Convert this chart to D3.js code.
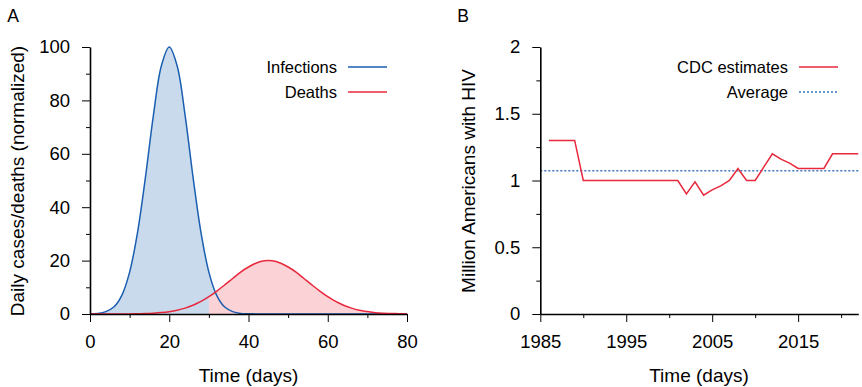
<!DOCTYPE html>
<html>
<head>
<meta charset="utf-8">
<script src="https://cdn.jsdelivr.net/npm/d3@7"></script>
<style>
  body { margin: 0; background: #fff; }
  svg { font-family: "Liberation Sans", Arial, sans-serif; }
</style>
</head>
<body>
<svg id="Target" width="862" height="387"></svg>
<script>
// panel A: normalized daily values, every 2 days
const days = [0,2,4,6,8,10,12,14,16,18,20,22,24,26,28,30,32,34,36,38,40,
    42,44,46,48,50,52,54,56,58,60,62,64,66,68,70,72,74,76,78,80];
const infections = [0,0.2,0.9,2.6,6.9,15.7,30.6,51.3,74.4,92.9,100,92.9,74.4,51.3,30.6,15.7,6.9,2.6,0.9,0.2,0.1,
    0,0,0,0,0,0,0,0,0,0,0,0,0,0,0,0,0,0,0,0];
const deaths = [0,0,0,0,0,0.04,0.1,0.16,0.3,0.52,0.88,1.42,2.2,3.3,4.7,6.5,8.6,10.9,13.3,15.7,17.6,
    19.1,19.9,19.9,19.1,17.6,15.7,13.3,10.9,8.6,6.5,4.7,3.3,2.2,1.4,0.9,0.5,0.3,0.2,0.1,0];

// panel B: CDC estimates, million Americans with HIV
const years = [1986,1987,1988,1989,1990,1991,1992,1993,1994,1995,1996,1997,1998,1999,2000,2001,
    2002,2003,2004,2005,2006,2007,2008,2009,2010,2011,2012,2013,2014,2015,2016,2017,2018,2019,2020,2021,2022];
const cdc = [1.3,1.3,1.3,1.3,1.0,1.0,1.0,1.0,1.0,1.0,1.0,1.0,1.0,1.0,1.0,1.0,
    0.9,0.99,0.89,0.93,0.96,1.0,1.09,1.0,1.0,1.1,1.2,1.16,1.13,1.09,1.09,1.09,1.09,1.2,1.2,1.2,1.2];

const blue = "#1a5fb0", red = "#e8283c";
const blueFill = "#c9daec", redFill = "#fbd2d6";
const svg = d3.select("#Target");

const styleAxis = g => {
    g.select(".domain").attr("stroke", "#000").attr("stroke-width", 1.6);
    g.selectAll(".tick line").attr("stroke", "#000").attr("stroke-width", 1);
    g.selectAll("text").attr("font-size", 18.5).attr("fill", "#000");
};

const drawAxes = (x, y, xMajor, xMinor, yMajor, yMinor, yFmt) => {
    const [x0, x1] = x.range(), [y0, y1] = y.range();
    svg.append("g").attr("transform", `translate(0,${y0})`)
        .call(d3.axisBottom(x).tickValues(xMinor).tickSize(4).tickFormat(""))
        .call(g => g.select(".domain").remove())
        .call(styleAxis);
    svg.append("g").attr("transform", `translate(${x0},0)`)
        .call(d3.axisLeft(y).tickValues(yMinor).tickSize(4).tickFormat(""))
        .call(g => g.select(".domain").remove())
        .call(styleAxis);
    svg.append("g").attr("transform", `translate(0,${y0})`)
        .call(d3.axisBottom(x).tickValues(xMajor).tickSize(8).tickSizeOuter(0).tickPadding(13).tickFormat(d3.format("d")))
        .call(styleAxis);
    svg.append("g").attr("transform", `translate(${x0},0)`)
        .call(d3.axisLeft(y).tickValues(yMajor).tickSize(8).tickSizeOuter(0).tickPadding(12).tickFormat(yFmt))
        .call(styleAxis);
};

const label = (txt, x, y, opts = {}) => svg.append("text")
    .attr("x", x).attr("y", y)
    .attr("dy", "0.35em")
    .attr("font-size", opts.size || 19)
    .attr("text-anchor", opts.anchor || "middle")
    .attr("transform", opts.rotate ? `rotate(-90,${x},${y})` : null)
    .text(txt);

const legendItem = (txt, x, y, color, dash) => {
    label(txt, x, y, {size: 16.5, anchor: "end"});
    svg.append("line")
        .attr("x1", x + 11).attr("x2", x + 50)
        .attr("y1", y).attr("y2", y)
        .attr("stroke", color).attr("stroke-width", 1.6)
        .attr("stroke-dasharray", dash);
};

// ---------- A ----------
const xA = d3.scaleLinear().domain([0, 80]).range([90, 407]);
const yA = d3.scaleLinear().domain([0, 100]).range([314, 47]);
const pts = days.map((d, i) => ({day: d, inf: infections[i], dth: deaths[i]}));

const areaA = key => d3.area().curve(d3.curveCatmullRom)
    .x(d => xA(d.day)).y0(yA(0)).y1(d => yA(d[key]));
const lineA = key => d3.line().curve(d3.curveCatmullRom)
    .x(d => xA(d.day)).y(d => yA(d[key]));

svg.append("path").datum(pts).attr("d", areaA("dth")).attr("fill", redFill);
svg.append("path").datum(pts).attr("d", areaA("inf")).attr("fill", blueFill);
// where deaths are above infections, the overlap takes the deaths colour
svg.append("path").datum(pts.filter(d => d.day >= 30))
    .attr("d", d3.area().curve(d3.curveCatmullRom)
        .x(d => xA(d.day)).y0(yA(0)).y1(d => yA(Math.min(d.inf, d.dth))))
    .attr("fill", redFill);
svg.append("path").datum(pts).attr("d", lineA("inf"))
    .attr("fill", "none").attr("stroke", blue).attr("stroke-width", 1.5);
svg.append("path").datum(pts).attr("d", lineA("dth"))
    .attr("fill", "none").attr("stroke", red).attr("stroke-width", 1.5);

drawAxes(xA, yA, [0, 20, 40, 60, 80], [10, 30, 50, 70],
    [0, 20, 40, 60, 80, 100], [10, 30, 50, 70, 90], d3.format("d"));

label("A", 13, 16, {size: 17.5});
label("Time (days)", 248.5, 375);
label("Daily cases/deaths (normalized)", 17, 181, {rotate: true});
legendItem("Infections", 337, 67, blue);
legendItem("Deaths", 337, 92, red);

// ---------- B ----------
const xB = d3.scaleLinear().domain([1985, 2022]).range([540.3, 858.3]);
const yB = d3.scaleLinear().domain([0, 2]).range([314, 47]);
const avg = d3.mean(cdc);

svg.append("line")
    .attr("x1", xB(1985)).attr("x2", xB(2022))
    .attr("y1", yB(avg)).attr("y2", yB(avg))
    .attr("stroke", "#3a78c0").attr("stroke-width", 1.6)
    .attr("stroke-dasharray", "2,2");
svg.append("path").datum(years.map((yr, i) => [yr, cdc[i]]))
    .attr("d", d3.line().x(d => xB(d[0])).y(d => yB(d[1])))
    .attr("fill", "none").attr("stroke", red).attr("stroke-width", 1.5);

drawAxes(xB, yB, [1985, 1995, 2005, 2015], [1990, 2000, 2010, 2020],
    [0, 0.5, 1, 1.5, 2], [0.25, 0.75, 1.25, 1.75], d => String(d));

label("B", 463, 16, {size: 17.5});
label("Time (days)", 699, 375);
label("Million Americans with HIV", 468, 181, {rotate: true});
legendItem("CDC estimates", 788, 67, red);
legendItem("Average", 788, 92, "#3a78c0", "2,2");
</script>
</body>
</html>
